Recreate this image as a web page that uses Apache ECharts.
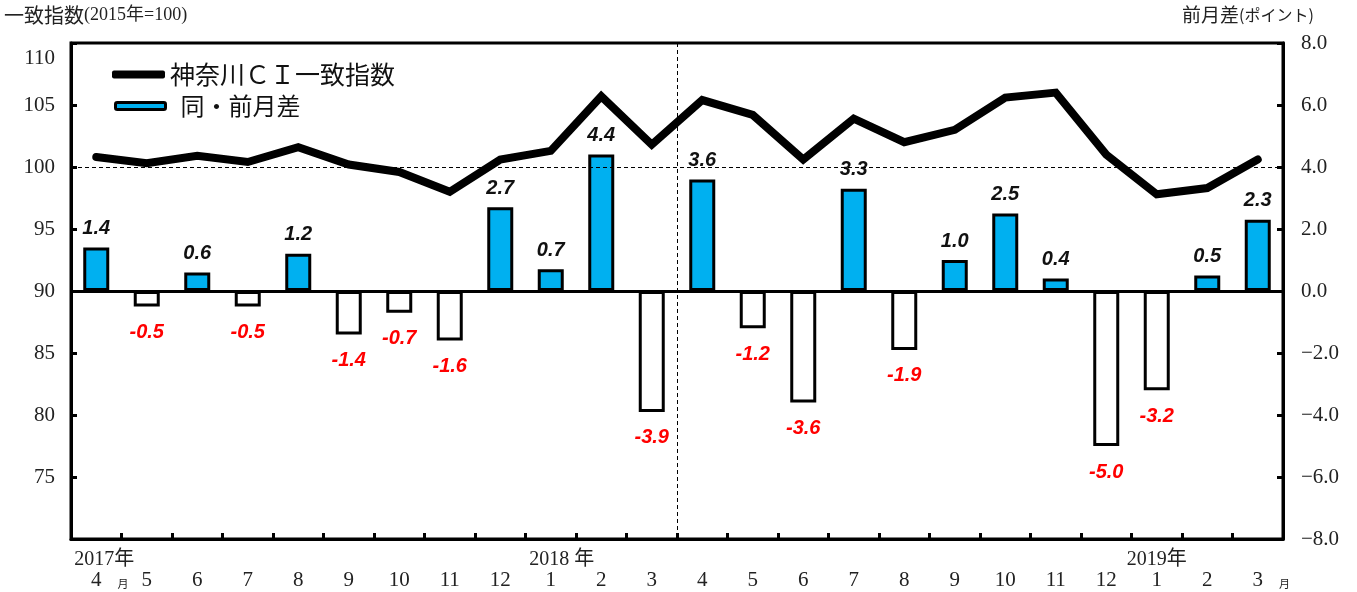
<!DOCTYPE html>
<html>
<head>
<meta charset="utf-8">
<script src="https://cdn.jsdelivr.net/npm/echarts@6/dist/echarts.min.js"></script>
<style>
  html, body { margin: 0; padding: 0; background: #fff; }
  #chart { width: 1357px; height: 592px; }
</style>
</head>
<body>
<div id="chart"></div>
<script>
// Months from April 2017 to March 2019
const months = ['4', '5', '6', '7', '8', '9', '10', '11', '12', '1', '2', '3',
                '4', '5', '6', '7', '8', '9', '10', '11', '12', '1', '2', '3'];
// Year captions shown under the first month of each year
const yearMarks = ['2017年', '', '', '', '', '', '', '', '', '2018 年', '', '',
                   '', '', '', '', '', '', '', '', '', '2019年', '', ''];
// Kanagawa CI coincident index (2015 = 100)
const ciIndex = [100.8, 100.3, 100.9, 100.4, 101.6, 100.2, 99.6, 98.0, 100.6, 101.3, 105.7, 101.8,
                 105.4, 104.2, 100.6, 103.9, 102.0, 103.0, 105.6, 106.0, 101.0, 97.8, 98.3, 100.6];
// Month-over-month change (points)
const ciDiff = [1.4, -0.5, 0.6, -0.5, 1.2, -1.4, -0.7, -1.6, 2.7, 0.7, 4.4, -3.9,
                3.6, -1.2, -3.6, 3.3, -1.9, 1.0, 2.5, 0.4, -5.0, -3.2, 0.5, 2.3];
// Axis ranges
const indexAxis = { min: 70, max: 110, interval: 5, hidden: [70] };
const diffAxis = { min: -8, max: 8, interval: 2 };
const refIndex = 100;

const SERIF = "'Liberation Serif', 'Noto Sans CJK JP', serif";
const SANS_JP = "'Noto Sans CJK JP', sans-serif";
const LABEL_FONT = "'Liberation Sans', Arial, sans-serif";
const BLUE = '#00B0F0';

const barData = ciDiff.map(v => v >= 0
  ? { value: v, itemStyle: { color: BLUE },
      label: { position: 'top', distance: 9, color: '#111' } }
  : { value: v, itemStyle: { color: '#ffffff' },
      label: { position: 'bottom', distance: 16, color: '#ff0000' } });

const chart = echarts.init(document.getElementById('chart'));

chart.setOption({
  animation: false,
  backgroundColor: '#fff',
  grid: {
    left: 71, right: 74, top: 43, bottom: 53,
    show: true, borderColor: '#000', borderWidth: 3,
    containLabel: false
  },
  graphic: [
    {
      type: 'text', left: 4, top: 5,
      style: {
        text: '{a|一致指数}{b|(2015年=100)}',
        rich: {
          a: { fontFamily: SANS_JP, fontSize: 20, fill: '#222' },
          b: { fontFamily: SERIF, fontSize: 18, fill: '#222' }
        }
      }
    },
    {
      type: 'text', left: 1182, top: 5,
      style: {
        text: '{a|前月差}{b|(ポイント)}',
        rich: {
          a: { fontFamily: SANS_JP, fontSize: 19, fill: '#222' },
          b: { fontFamily: SANS_JP, fontSize: 16, fill: '#222' }
        }
      }
    }
  ],
  legend: [
    {
      left: 112, top: 62, padding: 0,
      itemWidth: 53, itemHeight: 8, icon: 'roundRect',
      data: ['神奈川ＣＩ一致指数'],
      textStyle: { fontFamily: SANS_JP, fontSize: 25, color: '#111' }
    },
    {
      left: 114, top: 94, padding: 0,
      itemWidth: 50, itemHeight: 7,
      itemStyle: { color: BLUE, borderColor: '#000', borderWidth: 3 },
      data: ['同・前月差'],
      textStyle: { fontFamily: SANS_JP, fontSize: 24, color: '#111', padding: [0, 0, 0, 10] }
    }
  ],
  xAxis: [
    {
      type: 'category', data: months, position: 'bottom',
      boundaryGap: true,
      axisLine: { show: true, onZero: false, lineStyle: { color: '#000', width: 3 } },
      axisTick: { show: true, inside: true, length: 6, interval: 0, lineStyle: { color: '#000', width: 3 } },
      axisLabel: {
        interval: 0, margin: 31,
        fontFamily: SERIF, fontSize: 21, color: '#222',
        formatter: (v, i) => (i === 0 || i === months.length - 1)
          ? '{p|}{m|' + v + '}{s|月}'
          : '{m|' + v + '}',
        rich: {
          m: { fontFamily: SERIF, fontSize: 21, color: '#222' },
          p: { width: 27 },
          s: { fontFamily: SANS_JP, fontSize: 11, color: '#222', padding: [6, 0, 0, 16] }
        }
      },
      splitLine: { show: false }
    },
    {
      type: 'category', data: yearMarks, position: 'bottom',
      axisLine: { show: false }, axisTick: { show: false },
      axisLabel: {
        interval: 0, margin: 11,
        fontFamily: SERIF, fontSize: 20, color: '#222',
        formatter: (v, i) => v === '' ? '' : (i === 0 ? '{a|' + v + '}' : (i === 9 ? '{b|' + v + '}' : v)),
        rich: {
          a: { fontFamily: SERIF, fontSize: 20, color: '#222', padding: [0, 0, 0, 16] },
          b: { fontFamily: SERIF, fontSize: 20, color: '#222', padding: [0, 0, 0, 22] }
        }
      },
      splitLine: { show: false }
    },
    {
      // Fiscal-year divider: one split line between the two halves
      type: 'category', data: ['FY2017', 'FY2018'], position: 'bottom',
      axisLine: { show: false }, axisTick: { show: false }, axisLabel: { show: false },
      splitLine: { show: true, lineStyle: { color: '#000', width: 1, type: [4, 3] } }
    }
  ],
  yAxis: [
    {
      type: 'value', position: 'left',
      min: indexAxis.min, max: indexAxis.max, interval: indexAxis.interval,
      axisLine: { show: true, lineStyle: { color: '#000', width: 3 } },
      axisTick: { show: true, inside: true, length: 6, lineStyle: { color: '#000', width: 3 } },
      axisLabel: {
        margin: 16, fontFamily: SERIF, fontSize: 21, color: '#222',
        formatter: v => indexAxis.hidden.includes(v) ? '' : (v === indexAxis.max ? '{t|' + v + '}' : String(v)),
        rich: { t: { fontFamily: SERIF, fontSize: 21, color: '#222', padding: [30, 0, 0, 0] } }
      },
      splitLine: { show: false }
    },
    {
      type: 'value', position: 'right',
      min: diffAxis.min, max: diffAxis.max, interval: diffAxis.interval,
      axisLine: { show: true, lineStyle: { color: '#000', width: 3 } },
      axisTick: { show: true, inside: true, length: 6, lineStyle: { color: '#000', width: 3 } },
      axisLabel: {
        margin: 18, fontFamily: SERIF, fontSize: 21, color: '#222',
        formatter: v => (v < 0 ? '−' : '') + Math.abs(v).toFixed(1)
      },
      splitLine: { show: false }
    }
  ],
  series: [
    {
      name: '同・前月差', type: 'bar',
      xAxisIndex: 0, yAxisIndex: 1, z: 2,
      barWidth: 26,
      data: barData,
      itemStyle: { color: BLUE, borderColor: '#000', borderWidth: 3 },
      label: {
        show: true,
        fontFamily: LABEL_FONT, fontSize: 20, fontWeight: 'bold', fontStyle: 'italic',
        formatter: p => p.value.toFixed(1)
      },
      markLine: {
        silent: true, symbol: 'none', label: { show: false },
        lineStyle: { color: '#000', width: 3, type: 'solid' },
        data: [{ yAxis: 0 }]
      }
    },
    {
      name: '神奈川ＣＩ一致指数', type: 'line',
      xAxisIndex: 0, yAxisIndex: 0, z: 3,
      data: ciIndex,
      symbol: 'none',
      itemStyle: { color: '#000' },
      lineStyle: { color: '#000', width: 8, cap: 'round', join: 'miter' },
      markLine: {
        silent: true, symbol: 'none', label: { show: false },
        lineStyle: { color: '#000', width: 1, type: [4, 3] },
        data: [{ yAxis: refIndex }]
      }
    }
  ]
});
</script>
</body>
</html>
